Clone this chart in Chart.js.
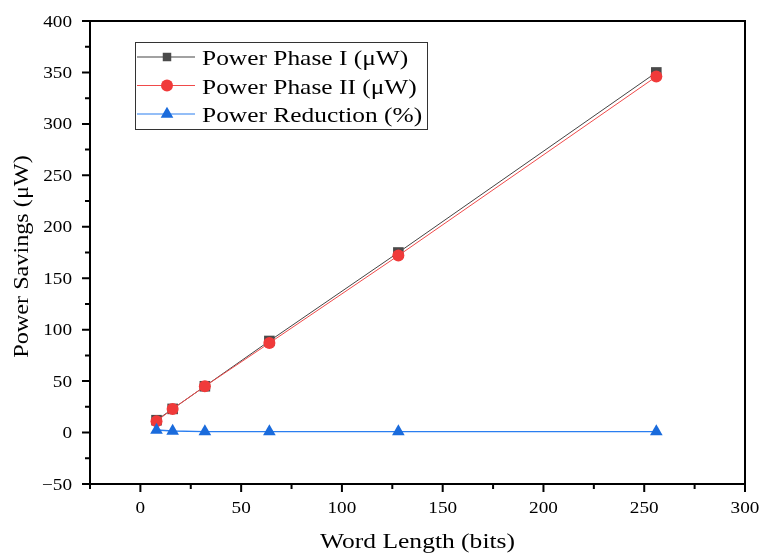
<!DOCTYPE html>
<html lang="en">
<head>
    <meta charset="UTF-8">
    <title>Power Savings</title>
    <script src="https://cdn.jsdelivr.net/npm/chart.js"></script>
    <style>
        body { margin: 0; background: #fff; }
        #wrap { width: 763px; height: 554px; }
    </style>
</head>
<body>
    <div id="wrap"><canvas id="chart" width="763" height="554"></canvas></div>

    <script>
        // values
        const wordLength = [8, 16, 32, 64, 128, 256];
        const powerPhase1 = [12, 23, 45, 89, 175, 350];
        const powerPhase2 = [11, 23, 45, 87, 172, 346];
        const powerReduction = [2.5, 1.5, 1, 1, 1, 1];
        const seriesLabels = ['Power Phase I (\u03bcW)', 'Power Phase II (\u03bcW)', 'Power Reduction (%)'];
        const xTicks = [0, 50, 100, 150, 200, 250, 300];
        const yTicks = [-50, 0, 50, 100, 150, 200, 250, 300, 350, 400];
        const xTitle = 'Word Length (bits)';
        const yTitle = 'Power Savings (\u03bcW)';

        const serif = "'Liberation Serif', 'Times New Roman', serif";

        function pts(ys) {
            return wordLength.map((x, i) => ({ x: x, y: ys[i] }));
        }

        // the reference text is a little wider than Times, so stretch it
        function drawText(ctx, text, x, y, size, align, stretch, rot) {
            ctx.save();
            ctx.translate(x, y);
            ctx.rotate(rot || 0);
            ctx.scale(stretch, 1);
            ctx.font = size + 'px ' + serif;
            ctx.textAlign = align;
            ctx.textBaseline = 'alphabetic';
            ctx.fillStyle = '#000';
            ctx.fillText(text, 0, 0);
            ctx.restore();
        }

        // frame, ticks, labels, titles and legend box
        const framePlugin = {
            id: 'frame',
            afterDraw(chart) {
                const ctx = chart.ctx;
                const a = chart.chartArea;
                const xs = chart.scales.x, ys = chart.scales.y;
                ctx.save();
                ctx.strokeStyle = '#000';
                ctx.lineWidth = 2;
                ctx.strokeRect(a.left, a.top, a.right - a.left, a.bottom - a.top);
                ctx.beginPath();
                for (let v = -25; v <= 300; v += 25) {
                    const px = xs.getPixelForValue(v);
                    const len = v % 50 === 0 ? 8 : 5;
                    ctx.moveTo(px, a.bottom); ctx.lineTo(px, a.bottom + len);
                }
                for (let v = -50; v <= 400; v += 25) {
                    const py = ys.getPixelForValue(v);
                    const len = v % 50 === 0 ? 8 : 5;
                    ctx.moveTo(a.left, py); ctx.lineTo(a.left - len, py);
                }
                ctx.stroke();

                xTicks.forEach(v => {
                    drawText(ctx, String(v), xs.getPixelForValue(v), a.bottom + 29, 16, 'center', 1.2);
                });
                yTicks.forEach(v => {
                    const t = String(v).replace('-', '\u2212');
                    drawText(ctx, t, a.left - 18, ys.getPixelForValue(v) + 5.5, 16, 'right', 1.2);
                });
                drawText(ctx, xTitle, (a.left + a.right) / 2, 548, 22, 'center', 1.16);
                drawText(ctx, yTitle, 28, (a.top + a.bottom) / 2 + 4, 22, 'center', 1.1, -Math.PI / 2);

                // legend inside the plot
                const bx = 135, by = 42, bw = 292, bh = 87;
                ctx.lineWidth = 1;
                ctx.strokeStyle = '#333';
                ctx.fillStyle = '#fff';
                ctx.fillRect(bx, by, bw, bh);
                ctx.strokeRect(bx + 0.5, by + 0.5, bw, bh);
                chart.data.datasets.forEach((ds, i) => {
                    const cy = by + 15 + i * 28.5;
                    ctx.strokeStyle = ds.borderColor;
                    ctx.lineWidth = 1.2;
                    ctx.beginPath();
                    ctx.moveTo(bx + 2, cy); ctx.lineTo(bx + 60, cy);
                    ctx.stroke();
                    ctx.fillStyle = ds.pointBackgroundColor;
                    ctx.strokeStyle = ds.pointBackgroundColor;
                    Chart.helpers.drawPoint(ctx, {
                        pointStyle: ds.pointStyle,
                        radius: ds.pointStyle === 'rect' ? 6 : ds.pointRadius,
                        rotation: 0,
                        borderWidth: 0
                    }, bx + 32, cy);
                    drawText(ctx, ds.label, bx + 67, cy + 8, 21, 'left', 1.21);
                });
                ctx.restore();
            }
        };

        const ctx = document.getElementById('chart').getContext('2d');
        new Chart(ctx, {
            type: 'scatter',
            data: {
                datasets: [
                    {
                        label: seriesLabels[0],
                        data: pts(powerPhase1),
                        showLine: true,
                        borderColor: '#444',
                        borderWidth: 1,
                        pointStyle: 'rect',
                        pointRadius: 7.5,
                        pointBackgroundColor: '#4a4a4a',
                        pointBorderWidth: 0,
                        order: 3
                    },
                    {
                        label: seriesLabels[1],
                        data: pts(powerPhase2),
                        showLine: true,
                        borderColor: '#f04a4a',
                        borderWidth: 1,
                        pointStyle: 'circle',
                        pointRadius: 6,
                        pointBackgroundColor: '#f03a3a',
                        pointBorderWidth: 0,
                        order: 2
                    },
                    {
                        label: seriesLabels[2],
                        data: pts(powerReduction),
                        showLine: true,
                        borderColor: '#2a7ef0',
                        borderWidth: 1.3,
                        pointStyle: 'triangle',
                        pointRadius: 7.3,
                        pointBackgroundColor: '#1a6bdc',
                        pointBorderWidth: 0,
                        order: 1
                    }
                ]
            },
            options: {
                responsive: false,
                animation: false,
                layout: { padding: { top: 21, right: 18, left: 0, bottom: 0 } },
                plugins: {
                    legend: { display: false },
                    tooltip: { enabled: false }
                },
                scales: {
                    x: {
                        type: 'linear',
                        min: -25,
                        max: 300,
                        afterBuildTicks: s => { s.ticks = xTicks.map(v => ({ value: v })); },
                        afterFit: s => { s.height = 70; s.paddingLeft = 0; s.paddingRight = 0; },
                        grid: { display: false },
                        border: { display: false },
                        ticks: { display: false }
                    },
                    y: {
                        type: 'linear',
                        min: -50,
                        max: 400,
                        afterBuildTicks: s => { s.ticks = yTicks.map(v => ({ value: v })); },
                        afterFit: s => { s.width = 90; s.paddingTop = 0; s.paddingBottom = 0; },
                        grid: { display: false },
                        border: { display: false },
                        ticks: { display: false }
                    }
                }
            },
            plugins: [framePlugin]
        });
    </script>
</body>
</html>
